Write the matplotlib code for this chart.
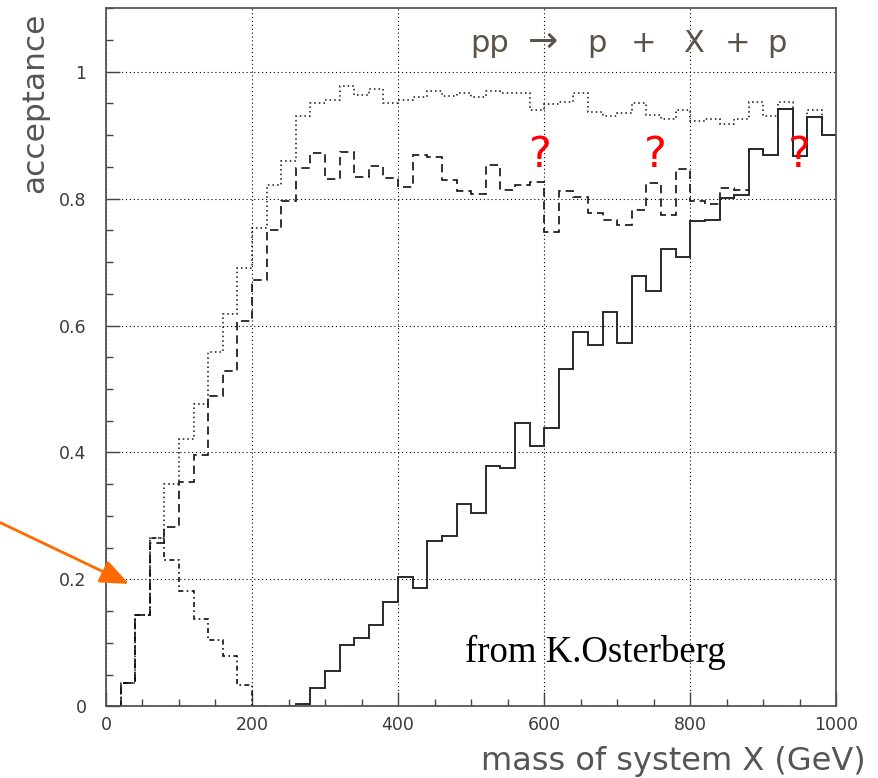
import numpy as np
import matplotlib
matplotlib.use("Agg")
import matplotlib.pyplot as plt
from matplotlib.ticker import MultipleLocator

# ---------------- data (20 GeV bins, 0..1000 GeV) ----------------
bin_width = 20
x_min, x_max = 0, 1000

# dotted histogram (upper)
dotted_vals = [0, 0.036, 0.144, 0.265, 0.350, 0.421, 0.477, 0.558, 0.618, 0.691,
               0.754, 0.822, 0.859, 0.930, 0.950, 0.955, 0.978, 0.964, 0.973, 0.950,
               0.955, 0.960, 0.969, 0.962, 0.967, 0.960, 0.969, 0.966, 0.967, 0.939,
               0.949, 0.953, 0.966, 0.937, 0.930, 0.935, 0.950, 0.932, 0.925, 0.940,
               0.923, 0.926, 0.918, 0.925, 0.952, 0.930, 0.952, 0.868, 0.940, 0.900]

# dashed histogram
dashed_vals = [0, 0.036, 0.144, 0.257, 0.282, 0.354, 0.396, 0.489, 0.529, 0.607,
               0.672, 0.750, 0.796, 0.848, 0.872, 0.831, 0.873, 0.834, 0.852, 0.832,
               0.819, 0.869, 0.866, 0.830, 0.812, 0.808, 0.853, 0.813, 0.822, 0.827,
               0.747, 0.812, 0.802, 0.777, 0.767, 0.758, 0.782, 0.824, 0.774, 0.847,
               0.796, 0.792, 0.817, 0.813, 0.878, 0.869, 0.942, 0.868, 0.929, 0.900]

# dash-dotted histogram (falling, low mass)
falling_vals = [0, 0.036, 0.144, 0.265, 0.230, 0.181, 0.138, 0.105, 0.080, 0.034,
                0, 0, 0, 0, 0, 0, 0, 0, 0, 0,
                0, 0, 0, 0, 0, 0, 0, 0, 0, 0,
                0, 0, 0, 0, 0, 0, 0, 0, 0, 0,
                0, 0, 0, 0, 0, 0, 0, 0, 0, 0]

# solid histogram (rising, high mass)
solid_vals = [0, 0, 0, 0, 0, 0, 0, 0, 0, 0,
              0, 0, 0, 0.004, 0.029, 0.055, 0.096, 0.107, 0.128, 0.165,
              0.204, 0.187, 0.260, 0.269, 0.319, 0.305, 0.379, 0.375, 0.447, 0.411,
              0.439, 0.531, 0.590, 0.569, 0.621, 0.572, 0.678, 0.655, 0.720, 0.708,
              0.765, 0.767, 0.801, 0.806, 0.878, 0.869, 0.942, 0.868, 0.929, 0.900]

x_ticks = [0, 200, 400, 600, 800, 1000]
x_tick_labels = ["0", "200", "400", "600", "800", "1000"]
y_ticks = [0, 0.2, 0.4, 0.6, 0.8, 1.0]
y_tick_labels = ["0", "0.2", "0.4", "0.6", "0.8", "1"]

title_tokens = ["pp", "\u2192", "p", "+", "X", "+", "p"]
question_marks = ["?", "?", "?"]
credit = "from K.Osterberg"
x_label = "mass of system X (GeV)"
y_label = "acceptance"

# ---------------- figure ----------------
W, H = 879, 778
fig = plt.figure(figsize=(W / 100, H / 100), dpi=100)

def fx(px):
    return px / W

def fy(py):
    return 1 - py / H

ax_left, ax_right, ax_top, ax_bottom = 105.9, 836.4, 8.3, 706.3
ax = fig.add_axes([fx(ax_left), fy(ax_bottom), fx(ax_right - ax_left),
                   (ax_bottom - ax_top) / H])

edges = np.arange(x_min, x_max + bin_width, bin_width)


def draw_hist(vals, **kw):
    vals = np.asarray(vals, dtype=float)
    nz = np.nonzero(vals)[0]
    i0 = max(nz[0] - 1, 0)
    i1 = min(nz[-1] + 2, len(vals))
    ax.stairs(vals[i0:i1], edges[i0:i1 + 1], baseline=None, **kw)


draw_hist(dotted_vals, color="#111", lw=1.1, linestyle=(0, (1, 2)))
draw_hist(dashed_vals, color="#111", lw=1.2, linestyle=(0, (5, 3)))
draw_hist(falling_vals, color="#111", lw=1.2, linestyle=(0, (3, 2, 1, 2)))
draw_hist(solid_vals, color="#2a2a2a", lw=1.4, linestyle="-")

ax.set_xlim(x_min, x_max)
ax.set_ylim(0, 1.1)

ax.set_xticks(x_ticks)
ax.set_xticklabels(x_tick_labels)
ax.set_yticks(y_ticks)
ax.set_yticklabels(y_tick_labels)
ax.xaxis.set_minor_locator(MultipleLocator(50))
ax.yaxis.set_minor_locator(MultipleLocator(0.05))

ax.tick_params(which="both", direction="in", colors="#444", top=False, right=False)
ax.tick_params(which="major", length=10, width=1.0, labelsize=12.5, labelcolor="#3a3a3a")
ax.tick_params(axis="x", which="major", pad=7)
ax.tick_params(axis="y", which="major", pad=14)
ax.tick_params(which="minor", length=5, width=1.0)

ax.grid(which="major", color="black", lw=0.8, linestyle=(0, (1, 2.5)))
ax.set_axisbelow(True)

for sp in ax.spines.values():
    sp.set_color("#555")
    sp.set_linewidth(1.3)

# title tokens
title_centers = [490, 543.5, 597, 644, 693.5, 737.5, 776.5]
for tok, cx in zip(title_tokens, title_centers):
    fs = 22 if tok != "\u2192" else 26
    fig.text(fx(cx), fy(51.7), tok, ha="center", va="baseline",
             fontsize=fs, color="#5b5248", family="DejaVu Sans")

# red question marks
for q, cx in zip(question_marks, [540, 655, 799]):
    fig.text(fx(cx), fy(155), q, ha="center", va="center", fontsize=31,
             color="#ff0000", family="DejaVu Sans")

# credit
fig.text(fx(465), fy(662), credit, ha="left", va="baseline", fontsize=26.5,
         color="black", family="Liberation Serif")

# axis labels
fig.text(fx(866), fy(770), x_label, ha="right", va="baseline", fontsize=23,
         color="#555", family="DejaVu Sans")
fig.text(fx(35), fy(103), y_label, ha="center", va="center", rotation=90,
         fontsize=22.5, color="#555", family="DejaVu Sans")

# orange arrow
ax.annotate("", xy=(129, H - 584), xycoords="figure pixels",
            xytext=(0, H - 522.5), textcoords="figure pixels",
            arrowprops=dict(arrowstyle="-|>,head_length=0.8,head_width=0.33",
                            color="#ff6a00", lw=2,
                            mutation_scale=22, shrinkA=0, shrinkB=0),
            annotation_clip=False)

fig.savefig("out.png", dpi=100)
